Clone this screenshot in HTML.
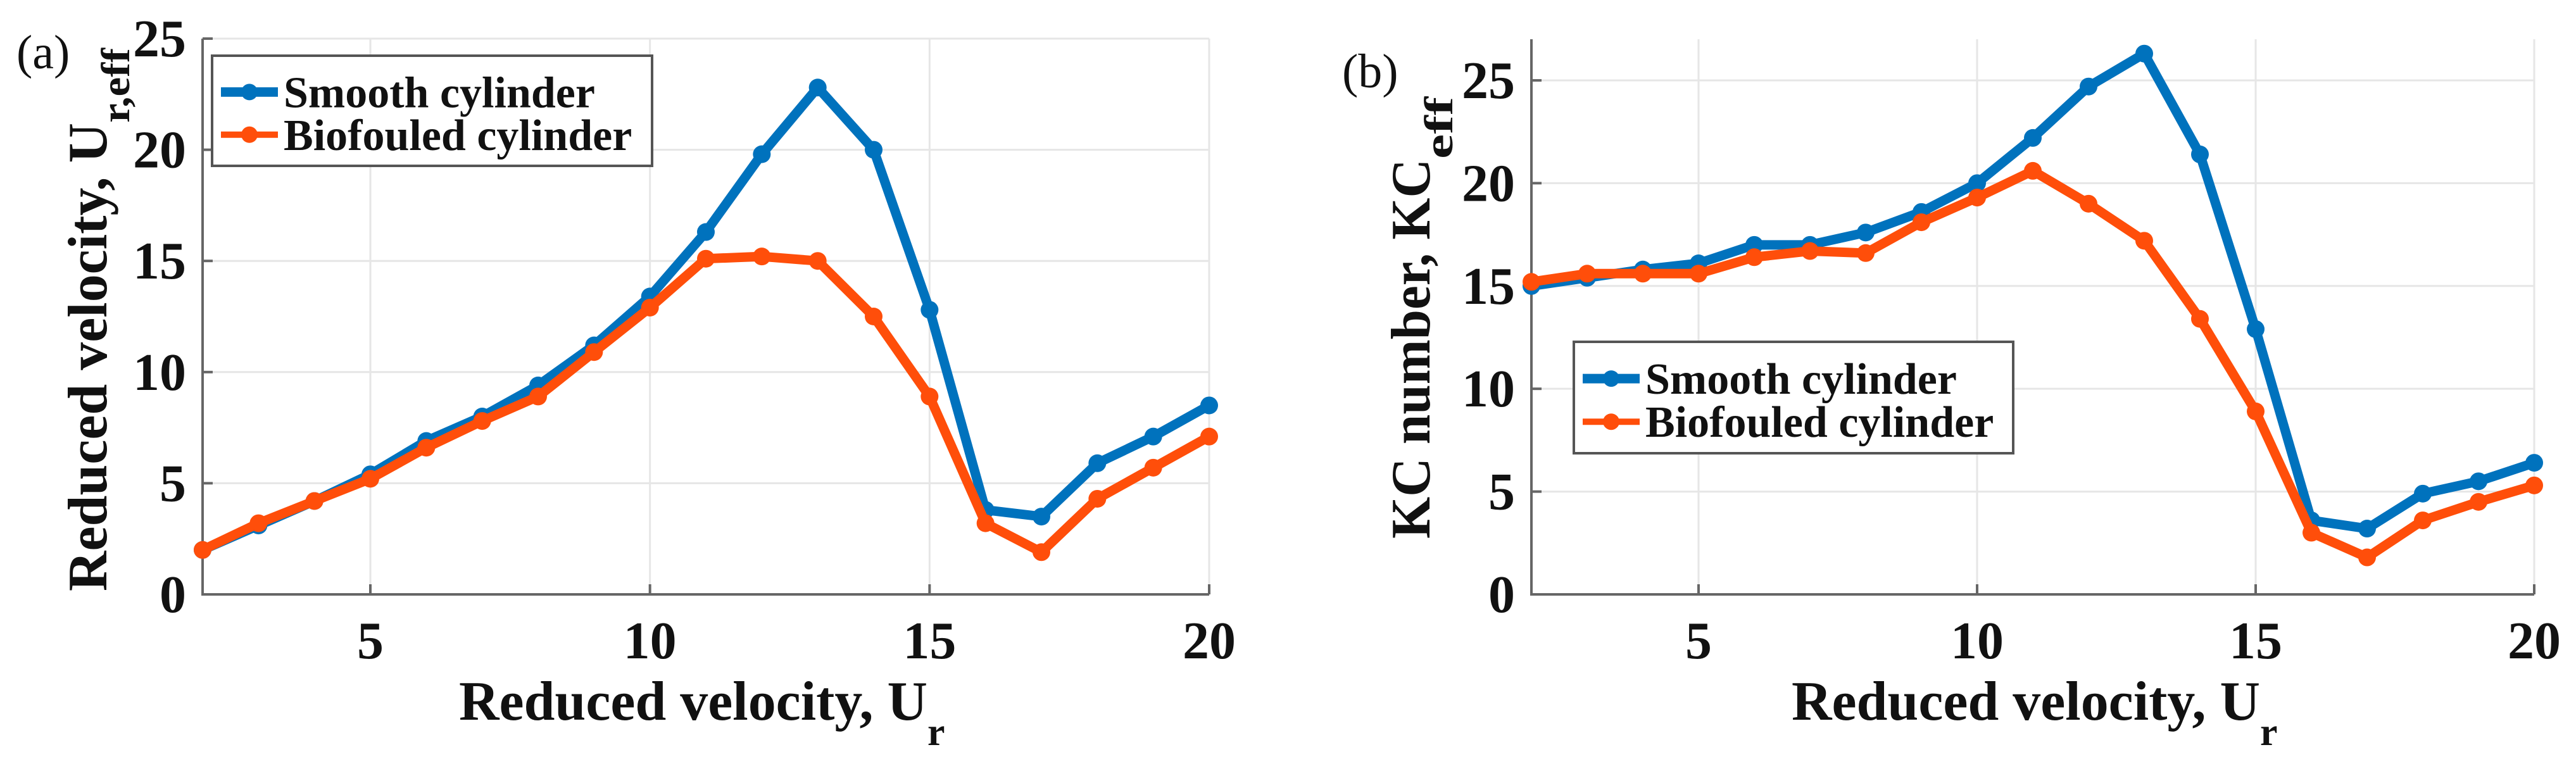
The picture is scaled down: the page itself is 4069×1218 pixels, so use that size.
<!DOCTYPE html>
<html><head><meta charset="utf-8"><style>
html,body{margin:0;padding:0;background:#fff;}
svg{display:block;font-family:"Liberation Serif","Times New Roman",serif;}
</style></head><body>
<svg id="fig" width="4069" height="1218" viewBox="0 0 4069 1218" xmlns="http://www.w3.org/2000/svg"></svg>
<script>
const xCats = [2,3,4,5,6,7,8,9,10,11,12,13,14,15,16,17,18,19,20];
const xTicks = [5,10,15,20];
const aSmooth = [2.0,3.1,4.2,5.4,6.9,8.0,9.4,11.2,13.4,16.3,19.8,22.8,20.0,12.8,3.8,3.5,5.9,7.1,8.5];
const aBio = [2.0,3.2,4.2,5.2,6.6,7.8,8.9,10.9,12.9,15.1,15.2,15.0,12.5,8.9,3.2,1.9,4.3,5.7,7.1];
const aYTicks = [0,5,10,15,20,25];
const bSmooth = [15.0,15.4,15.8,16.1,17.0,17.0,17.6,18.6,20.0,22.2,24.7,26.3,21.4,12.9,3.6,3.2,4.9,5.5,6.4];
const bBio = [15.2,15.6,15.6,15.6,16.4,16.7,16.6,18.1,19.3,20.6,19.0,17.2,13.4,8.9,3.0,1.8,3.6,4.5,5.3];
const bYTicks = [0,5,10,15,20,25];
const seriesNames = ["Smooth cylinder","Biofouled cylinder"];

const NS="http://www.w3.org/2000/svg";
const svg=document.getElementById('fig');
function mk(tag,attrs,parent){const e=document.createElementNS(NS,tag);for(const k in attrs)e.setAttribute(k,attrs[k]);(parent||svg).appendChild(e);return e;}
const BLUE="#0072BD", ORANGE="#FF4E0A";

function panel(cfg){
  const g=mk('g',{});
  
  
  const X=v=>cfg.x0+(v-2)/(20-2)*(cfg.x1-cfg.x0);
  const Y=v=>cfg.y0-v/cfg.ymax*(cfg.y0-cfg.y1);
  xTicks.forEach(t=>{const l=mk('line',{x1:X(t),x2:X(t),y1:cfg.y1,y2:cfg.y0,stroke:'#e6e6e6','stroke-width':3},g);
    });
  cfg.yTicks.forEach(t=>{const l=mk('line',{x1:cfg.x0,x2:cfg.x1,y1:Y(t),y2:Y(t),stroke:'#e6e6e6','stroke-width':3},g);
    });
  const ax=mk('path',{d:`M${cfg.x0},${cfg.y1}V${cfg.y0}H${cfg.x1}`,fill:'none',stroke:'#666','stroke-width':4},g);
  
  xTicks.forEach(t=>{mk('line',{x1:X(t),x2:X(t),y1:cfg.y0,y2:cfg.y0-16,stroke:'#666','stroke-width':4},g);
    const tx=mk('text',{x:X(t),y:1040,'font-size':84,'font-weight':'bold','text-anchor':'middle',fill:'#111'},g);
    tx.textContent=t;});
  cfg.yTicks.forEach(t=>{mk('line',{x1:cfg.x0,x2:cfg.x0+16,y1:Y(t),y2:Y(t),stroke:'#666','stroke-width':4},g);
    const tx=mk('text',{x:cfg.x0-26,y:Y(t)+28,'font-size':84,'font-weight':'bold','text-anchor':'end',fill:'#111'},g);
    tx.textContent=t;});
  [[cfg.s1,BLUE,'smooth-series'],[cfg.s2,ORANGE,'biofouled-series']].forEach(([d,c,n])=>{
    const sg=mk('g',{},g);
    const pts=d.map((v,i)=>X(xCats[i])+','+Y(v)).join(' ');
    const pl=mk('polyline',{points:pts,fill:'none',stroke:c,'stroke-width':15,'stroke-linejoin':'round'},sg);
    
    d.forEach((v,i)=>{const m=mk('circle',{cx:X(xCats[i]),cy:Y(v),r:14,fill:c},sg);
      });
  });
  const L=cfg.leg;
  const lg=mk('g',{},g);
  mk('rect',{x:L.x,y:L.y,width:L.w,height:L.h,fill:'#fff',stroke:'#555','stroke-width':4},lg);
  [[BLUE,seriesNames[0],0.33],[ORANGE,seriesNames[1],0.74]].forEach(([c,name,f],k)=>{
    const cy=L.y+L.h*f-(k?4:0);
    const e=mk('g',{},lg);
    mk('line',{x1:L.x+14,x2:L.x+104,y1:cy,y2:cy,stroke:c,'stroke-width':k?10:15},e);
    mk('circle',{cx:L.x+59,cy:cy,r:13,fill:c},e);
    const t=mk('text',{x:L.x+113,y:cy+24,'font-size':70,'font-weight':'bold',fill:'#111'},e);t.textContent=name;
  });
  const pl=mk('text',{x:cfg.lab[0],y:cfg.lab[1],'font-size':76,fill:'#111'},g);pl.textContent=cfg.labText;
  
  const xl=mk('text',{x:cfg.xl,y:1137,'font-size':88,'font-weight':'bold',fill:'#111'},g);
  
  const m1=mk('tspan',{textLength:740,lengthAdjust:'spacingAndGlyphs'},xl);m1.textContent='Reduced velocity, U';
  const m2=mk('tspan',{dy:40,'font-size':62},xl);m2.textContent='r';
  const yl=mk('text',{transform:`translate(${cfg.yl[0]},${cfg.yl[1]}) rotate(-90)`,'font-size':88,'font-weight':'bold',fill:'#111'},g);
  
  const t1=mk('tspan',{textLength:cfg.ylLen[0],lengthAdjust:'spacingAndGlyphs'},yl);t1.textContent=cfg.ylText[0];
  const t2=mk('tspan',{dy:36,'font-size':64,textLength:cfg.ylLen[1],lengthAdjust:'spacingAndGlyphs'},yl);t2.textContent=cfg.ylText[1];
}
panel({name:'panel-a',x0:320,x1:1910,y0:939,y1:61,ymax:25,yTicks:aYTicks,s1:aSmooth,s2:aBio,
  leg:{x:335,y:88,w:695,h:174},lab:[26,108],labText:'(a)',xl:725,yl:[168,934],ylLen:[740,118],ylText:['Reduced velocity, U','r,eff']});
panel({name:'panel-b',x0:2419,x1:4003,y0:939,y1:62,ymax:27,yTicks:bYTicks,s1:bSmooth,s2:bBio,
  leg:{x:2486,y:540,w:694,h:176},lab:[2120,138],labText:'(b)',xl:2830,yl:[2258,851],ylLen:[600,98],ylText:['KC number, KC','eff']});
</script>
</body></html>
